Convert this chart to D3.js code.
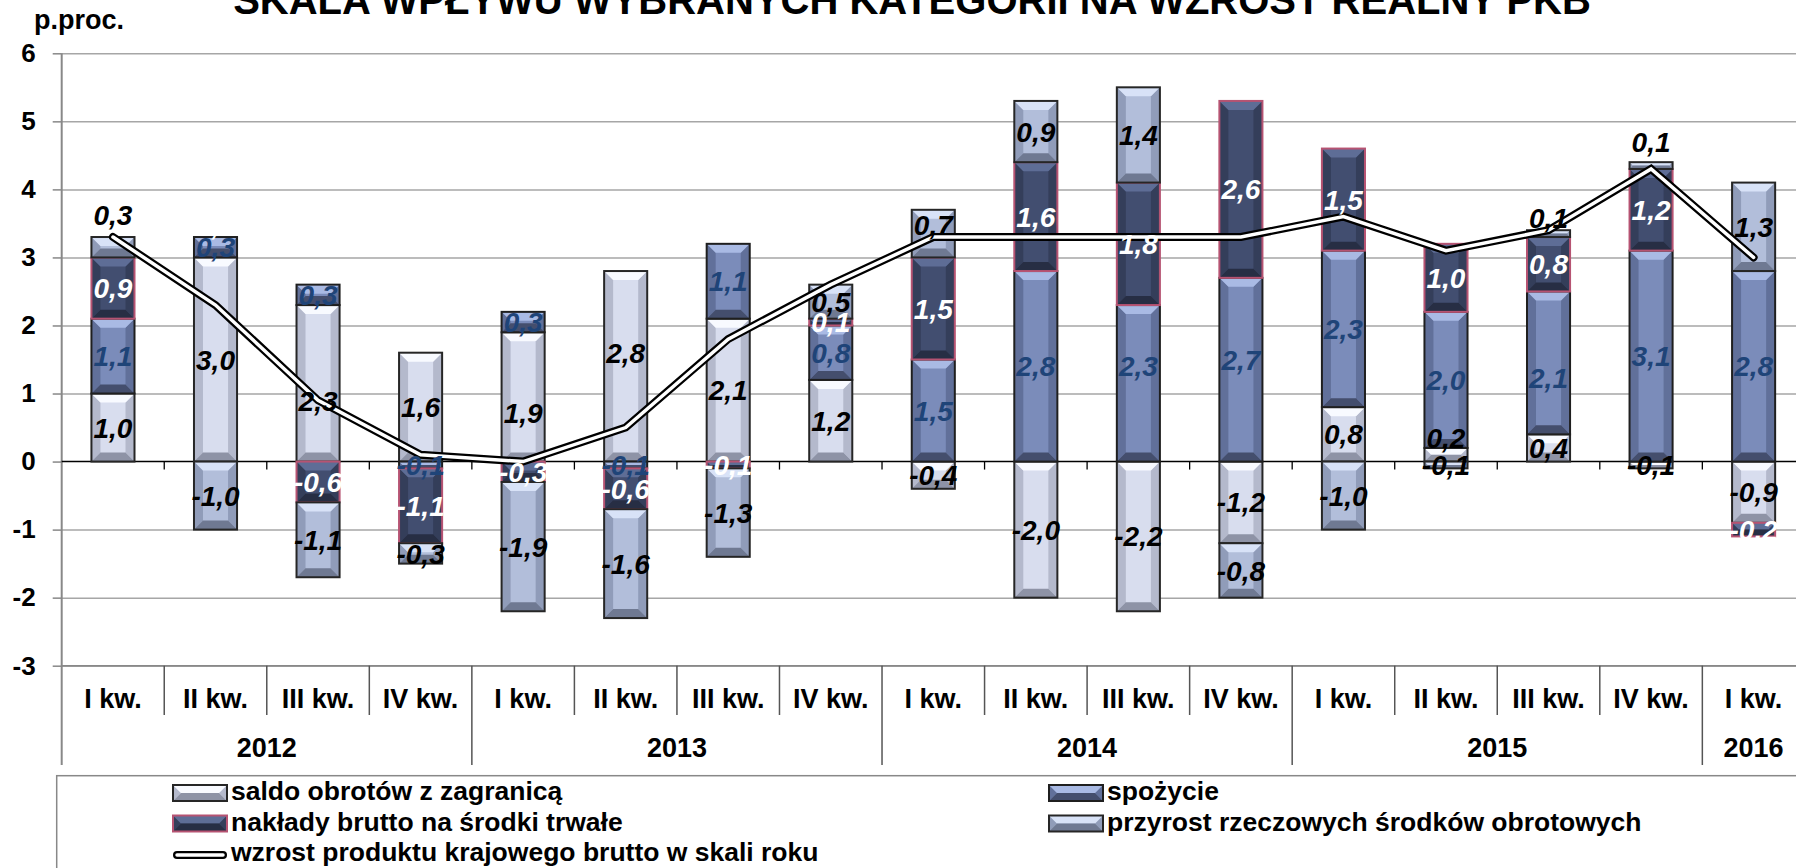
<!DOCTYPE html>
<html>
<head>
<meta charset="utf-8">
<script src="https://cdn.jsdelivr.net/npm/d3@7"></script>
<style>
  body { margin: 0; background: #fff; }
  svg { display: block; font-family: "Liberation Sans", Arial, sans-serif; }
</style>
</head>
<body>
<svg id="chart" width="1796" height="868"></svg>
<script>
// ── data ─────────────────────────────────────────────────────────
const quarters = ["I kw.", "II kw.", "III kw.", "IV kw.",
                  "I kw.", "II kw.", "III kw.", "IV kw.",
                  "I kw.", "II kw.", "III kw.", "IV kw.",
                  "I kw.", "II kw.", "III kw.", "IV kw.",
                  "I kw."];
const years = ["2012", "2013", "2014", "2015", "2016"];
const quartersPerYear = [4, 4, 4, 4, 1];

const saldo    = [1.0, 3.0, 2.3, 1.6, 1.9, 2.8, 2.1, 1.2, -0.4, -2.0, -2.2, -1.2, 0.8, 0.2, 0.4, -0.1, -0.9];
const spozycie = [1.1, 0.3, 0.3, -0.1, 0.3, -0.1, 1.1, 0.8, 1.5, 2.8, 2.3, 2.7, 2.3, 2.0, 2.1, 3.1, 2.8];
const naklady  = [0.9, 0.0, -0.6, -1.1, -0.3, -0.6, -0.1, 0.1, 1.5, 1.6, 1.8, 2.6, 1.5, 1.0, 0.8, 1.2, -0.2];
const przyrost = [0.3, -1.0, -1.1, -0.3, -1.9, -1.6, -1.3, 0.5, 0.7, 0.9, 1.4, -0.8, -1.0, -0.1, 0.1, 0.1, 1.3];
const pkb      = [3.3, 2.3, 0.9, 0.1, 0.0, 0.5, 1.8, 2.6, 3.3, 3.3, 3.3, 3.3, 3.6, 3.1, 3.4, 4.3, 3.0];

const seriesKeys  = ["saldo", "spozycie", "naklady", "przyrost"];
const seriesNames = {
    saldo: "saldo obrotów z zagranicą",
    spozycie: "spożycie",
    naklady: "nakłady brutto na środki trwałe",
    przyrost: "przyrost rzeczowych środków obrotowych"
};
const lineName = "wzrost produktu krajowego brutto w skali roku";
const seriesValues = { saldo, spozycie, naklady, przyrost };

// ── look ─────────────────────────────────────────────────────────
const styles = {
    saldo:    { base: "#D8DDEE", side: "#B4B9CC", top: "#F8FAFF", bottom: "#8E93A6", stroke: "#262626", label: "#000" },
    spozycie: { base: "#7B8CBA", side: "#61709A", top: "#A9BAE4", bottom: "#444E6D", stroke: "#1f1f1f", label: "#1F4478" },
    naklady:  { base: "#424E70", side: "#343E5A", top: "#5E6D96", bottom: "#272E44", stroke: "#B65372", label: "#fff" },
    przyrost: { base: "#B2BEDA", side: "#909CB9", top: "#D8E2F7", bottom: "#6F7992", stroke: "#262626", label: "#000" }
};
// hand-moved data labels in the original (px, +down)
const labelNudge = {
    "przyrost-0": -32, "naklady-1": -12, "saldo-2": 18, "saldo-4": 16, "saldo-5": -13,
    "przyrost-8": -9, "spozycie-10": -17, "spozycie-11": -10, "saldo-13": -17,
    "spozycie-14": 15, "przyrost-14": -16, "przyrost-15": -24
};

const W = 1796, H = 868;
const plotLeft = 61.7, step = 102.54, plotTop = 53.3, plotBottom = 665.7;
const fmt = v => v.toFixed(1).replace(".", ",");

const svg = d3.select("#chart");

const x = d3.scaleBand()
    .domain(d3.range(quarters.length))
    .range([plotLeft, plotLeft + step * quarters.length])
    .paddingInner(0.58)
    .paddingOuter(0.29);
const y = d3.scaleLinear().domain([-3, 6]).range([plotBottom, plotTop]);
const cx = i => x(i) + x.bandwidth() / 2;

// ── gridlines + y axis ───────────────────────────────────────────
const grid = svg.append("g")
    .attr("transform", `translate(${plotLeft},0)`)
    .call(d3.axisLeft(y).ticks(9).tickSize(-(W - plotLeft)).tickFormat(""));
grid.select(".domain").remove();
grid.selectAll(".tick line")
    .attr("stroke", d => d === 0 ? "none" : "#A6A6A6")
    .attr("stroke-width", 1.5);

const yAxis = svg.append("g")
    .attr("transform", `translate(${plotLeft},0)`)
    .call(d3.axisLeft(y).ticks(9).tickSize(9).tickPadding(17).tickFormat(d => String(d)));
yAxis.select(".domain").remove();
yAxis.selectAll(".tick line").attr("stroke", "#888").attr("stroke-width", 1.5);
yAxis.selectAll(".tick text")
    .attr("font-size", 26).attr("font-weight", "bold").attr("fill", "#000")
    .attr("font-family", "Liberation Sans, Arial, sans-serif");

svg.append("line")
    .attr("x1", plotLeft).attr("x2", plotLeft)
    .attr("y1", plotTop).attr("y2", 765)
    .attr("stroke", "#888").attr("stroke-width", 2);

// zero line with ticks
svg.append("line")
    .attr("x1", plotLeft).attr("x2", W)
    .attr("y1", y(0)).attr("y2", y(0))
    .attr("stroke", "#000").attr("stroke-width", 1.6);
svg.selectAll("line.zt")
    .data(d3.range(1, quarters.length))
    .enter().append("line")
    .attr("class", "zt")
    .attr("x1", i => plotLeft + i * step).attr("x2", i => plotLeft + i * step)
    .attr("y1", y(0)).attr("y2", y(0) + 8)
    .attr("stroke", "#000").attr("stroke-width", 1.3);

// ── stacked bars ─────────────────────────────────────────────────
const rows = quarters.map((q, i) => {
    const r = { i };
    seriesKeys.forEach(k => r[k] = seriesValues[k][i]);
    return r;
});
const stacked = d3.stack().keys(seriesKeys).offset(d3.stackOffsetDiverging)(rows);

function bevel(g, x0, y0, w, h, st) {
    const b = Math.min(9, w / 2, h / 2);
    const poly = (pts, fill) => g.append("polygon")
        .attr("points", pts.map(p => p.join(",")).join(" "))
        .attr("fill", fill);
    g.append("rect").attr("x", x0).attr("y", y0).attr("width", w).attr("height", h).attr("fill", st.base);
    poly([[x0, y0], [x0 + b, y0 + b], [x0 + b, y0 + h - b], [x0, y0 + h]], st.side);
    poly([[x0 + w, y0], [x0 + w - b, y0 + b], [x0 + w - b, y0 + h - b], [x0 + w, y0 + h]], st.side);
    poly([[x0, y0], [x0 + w, y0], [x0 + w - b, y0 + b], [x0 + b, y0 + b]], st.top);
    poly([[x0, y0 + h], [x0 + w, y0 + h], [x0 + w - b, y0 + h - b], [x0 + b, y0 + h - b]], st.bottom);
    g.append("rect").attr("x", x0).attr("y", y0).attr("width", w).attr("height", h)
        .attr("fill", "none").attr("stroke", st.stroke).attr("stroke-width", 2);
}

const barsG = svg.append("g");
stacked.forEach(layer => {
    const st = styles[layer.key];
    layer.forEach((d, i) => {
        const top = y(Math.max(d[0], d[1])), bot = y(Math.min(d[0], d[1]));
        if (bot - top < 0.5) return;
        bevel(barsG.append("g"), x(i), top, x.bandwidth(), bot - top, st);
    });
});

// ── GDP line (double line) ───────────────────────────────────────
const line = d3.line().x((d, i) => cx(i)).y(d => y(d));
svg.append("path").attr("d", line(pkb))
    .attr("fill", "none").attr("stroke", "#000").attr("stroke-width", 8)
    .attr("stroke-linecap", "round").attr("stroke-linejoin", "miter");
svg.append("path").attr("d", line(pkb))
    .attr("fill", "none").attr("stroke", "#fff").attr("stroke-width", 3.5)
    .attr("stroke-linecap", "round").attr("stroke-linejoin", "miter");

// ── data labels ─────────────────────────────────────────────────
const labelG = svg.append("g");
stacked.forEach(layer => {
    const st = styles[layer.key];
    layer.forEach((d, i) => {
        const v = seriesValues[layer.key][i];
        let yy;
        if (v === 0) {
            const posTop = d3.sum(seriesKeys, k => Math.max(0, seriesValues[k][i]));
            yy = y(posTop);
        } else {
            yy = y((d[0] + d[1]) / 2);
        }
        yy += labelNudge[`${layer.key}-${i}`] || 0;
        labelG.append("text")
            .attr("x", cx(i)).attr("y", yy).attr("dy", "0.36em")
            .attr("text-anchor", "middle")
            .attr("font-size", 28).attr("font-weight", "bold").attr("font-style", "italic")
            .attr("fill", st.label)
            .text(fmt(v));
    });
});

// ── category axis (two levels) ───────────────────────────────────
svg.append("line")
    .attr("x1", plotLeft).attr("x2", W)
    .attr("y1", plotBottom).attr("y2", plotBottom)
    .attr("stroke", "#888").attr("stroke-width", 1.5);
svg.selectAll("line.sep")
    .data(d3.range(1, quarters.length + 1))
    .enter().append("line")
    .attr("class", "sep")
    .attr("x1", i => plotLeft + i * step).attr("x2", i => plotLeft + i * step)
    .attr("y1", plotBottom)
    .attr("y2", i => (i % 4 === 0 ? 765 : 715))
    .attr("stroke", "#555").attr("stroke-width", 1.5);
svg.selectAll("text.q")
    .data(quarters)
    .enter().append("text")
    .attr("class", "q")
    .attr("x", (d, i) => cx(i)).attr("y", 708)
    .attr("text-anchor", "middle")
    .attr("font-size", 27).attr("font-weight", "bold")
    .text(d => d);
let acc = 0;
years.forEach((yr, j) => {
    const n = quartersPerYear[j];
    const mid = plotLeft + (acc + n / 2) * step;
    acc += n;
    svg.append("text")
        .attr("x", mid).attr("y", 757)
        .attr("text-anchor", "middle")
        .attr("font-size", 27).attr("font-weight", "bold")
        .text(yr);
});

// ── titles ───────────────────────────────────────────────────────
svg.append("text")
    .attr("x", 912).attr("y", 14)
    .attr("text-anchor", "middle")
    .attr("font-size", 40).attr("font-weight", "bold")
    .text("SKALA WPŁYWU WYBRANYCH KATEGORII NA WZROST REALNY PKB");
svg.append("text")
    .attr("x", 34).attr("y", 29)
    .attr("font-size", 27).attr("font-weight", "bold")
    .text("p.proc.");

// ── legend ───────────────────────────────────────────────────────
svg.append("rect")
    .attr("x", 56.7).attr("y", 775.7).attr("width", 1800).attr("height", 200)
    .attr("fill", "none").attr("stroke", "#888").attr("stroke-width", 1.5);

const legendItems = [
    { key: "saldo", col: 0, row: 0 },
    { key: "spozycie", col: 1, row: 0 },
    { key: "naklady", col: 0, row: 1 },
    { key: "przyrost", col: 1, row: 1 }
];
const colX = [173, 1049], rowBase = [800, 830.5, 861];
legendItems.forEach(it => {
    const lx = colX[it.col], by = rowBase[it.row];
    bevel(svg.append("g"), lx, by - 15, 54, 16, Object.assign({}, styles[it.key], { }));
    svg.append("text")
        .attr("x", lx + 58).attr("y", by)
        .attr("font-size", 26.5).attr("font-weight", "bold")
        .text(seriesNames[it.key]);
});
svg.append("line")
    .attr("x1", 177).attr("x2", 223).attr("y1", rowBase[2] - 6).attr("y2", rowBase[2] - 6)
    .attr("stroke", "#000").attr("stroke-width", 8).attr("stroke-linecap", "round");
svg.append("line")
    .attr("x1", 177).attr("x2", 223).attr("y1", rowBase[2] - 6).attr("y2", rowBase[2] - 6)
    .attr("stroke", "#fff").attr("stroke-width", 3.5).attr("stroke-linecap", "round");
svg.append("text")
    .attr("x", 231).attr("y", rowBase[2])
    .attr("font-size", 26.5).attr("font-weight", "bold")
    .text(lineName);
</script>
</body>
</html>
